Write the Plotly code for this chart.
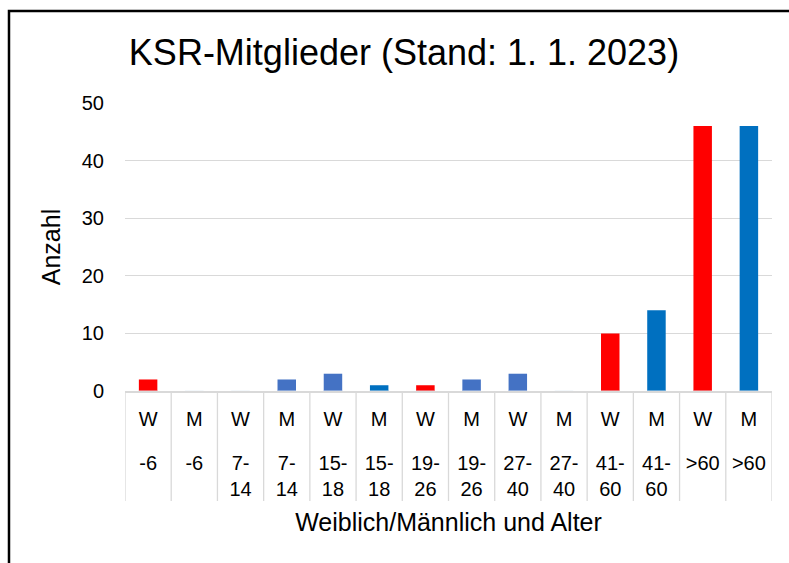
import plotly.graph_objects as go

# --- data ---
sex_labels = ["W", "M", "W", "M", "W", "M", "W", "M", "W", "M", "W", "M", "W", "M"]
age_labels = ["-6", "-6", "7-<br>14", "7-<br>14", "15-<br>18", "15-<br>18", "19-<br>26", "19-<br>26",
              "27-<br>40", "27-<br>40", "41-<br>60", "41-<br>60", ">60", ">60"]
counts = [2, 0, 0, 2, 3, 1, 1, 2, 3, 0, 10, 14, 46, 46]
bar_colors = ["#FF0000", "#0070C0", "#FF0000", "#4472C4", "#4472C4", "#0070C0", "#FF0000", "#4472C4",
              "#4472C4", "#0070C0", "#FF0000", "#0070C0", "#FF0000", "#0070C0"]

idx = list(range(len(counts)))
FONT = "Liberation Sans, Arial, sans-serif"

fig = go.Figure()
fig.add_trace(go.Bar(x=idx, y=counts, marker=dict(color=bar_colors, line=dict(width=0)),
                     showlegend=False, hoverinfo="y"))

# category separators below the axis
shapes = []
for i in range(len(counts) + 1):
    shapes.append(dict(type="line", xref="x", yref="paper", x0=i - 0.5, x1=i - 0.5,
                       y0=0, y1=-0.382, line=dict(color="#D9D9D9", width=1.3), layer="below"))
# outer black frame (chart border, partly cut off)
shapes.append(dict(type="rect", xref="paper", yref="paper", x0=-0.1793, x1=1.2, y0=-0.7, y1=1.3194,
                   line=dict(color="black", width=2.5), fillcolor="rgba(0,0,0,0)", layer="below"))

fig.update_layout(
    width=789, height=563,
    margin=dict(l=125, r=17, t=103, b=172, pad=0),
    paper_bgcolor="white", plot_bgcolor="white",
    font=dict(family=FONT, size=20, color="black"),
    title=dict(text="KSR-Mitglieder (Stand: 1. 1. 2023)", font=dict(family=FONT, size=36, color="black"),
               x=404 / 789, xanchor="center", y=1 - 52 / 563, yanchor="middle"),
    bargap=0.6,
    shapes=shapes,
    xaxis=dict(range=[-0.5, len(counts) - 0.5], tickvals=idx, ticktext=sex_labels, showgrid=False,
               zeroline=False, showline=True, linecolor="#D9D9D9", linewidth=1.5, ticks="",
               ticklabelstandoff=9, tickfont=dict(size=20), fixedrange=True),
    xaxis2=dict(range=[-0.5, len(counts) - 0.5], tickvals=idx, ticktext=age_labels, overlaying="x",
                anchor="y", side="bottom", showgrid=False, zeroline=False, showline=False, ticks="",
                ticklabelstandoff=58, tickfont=dict(size=20),
                title=dict(text="Weiblich/Männlich und Alter", font=dict(size=25), standoff=14)),
    yaxis=dict(range=[0, 50], dtick=10, showgrid=True, gridcolor="#D9D9D9", gridwidth=1.3,
               zeroline=False, showline=False, ticks="", ticklabelstandoff=20, tickfont=dict(size=20),
               title=dict(text="Anzahl", font=dict(size=25), standoff=14)),
)
# invisible trace on xaxis2 so it is rendered
fig.add_trace(go.Bar(x=idx, y=[0] * len(counts), xaxis="x2", showlegend=False, hoverinfo="skip",
                     marker=dict(color="rgba(0,0,0,0)")))

fig.write_html("out.html", config={"displayModeBar": False},
               post_script="document.body.style.margin='0';document.body.style.overflow='hidden';")
